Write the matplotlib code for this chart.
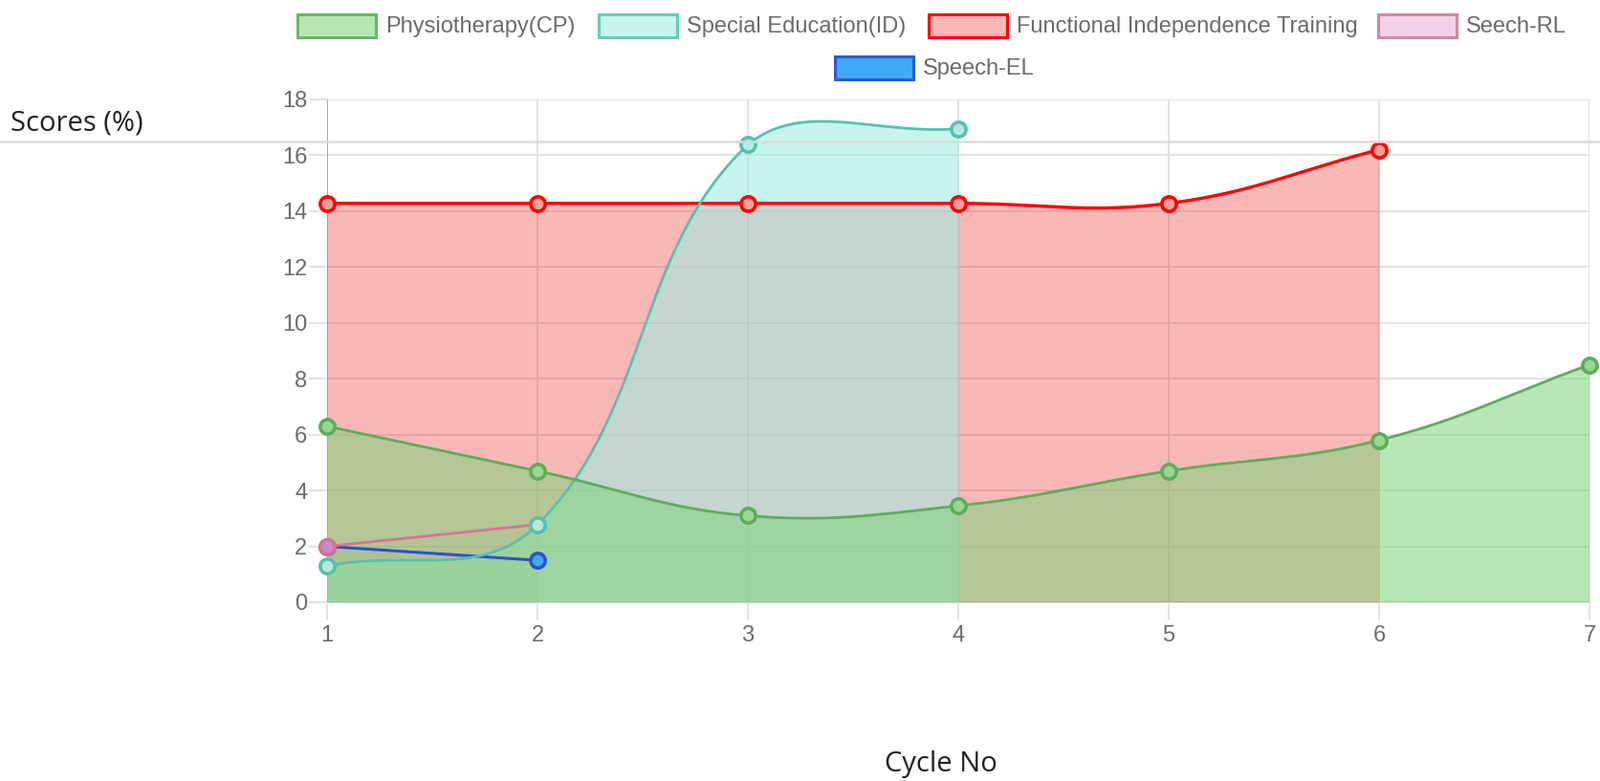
import numpy as np
import matplotlib
matplotlib.use("Agg")
import matplotlib.pyplot as plt
from matplotlib.patches import Rectangle
from matplotlib.lines import Line2D

# ---------------- data ----------------
cycles = [1, 2, 3, 4, 5, 6, 7]
physio_cp = [6.3, 4.7, 3.1, 3.45, 4.7, 5.8, 8.5]
special_ed_id = [1.3, 2.78, 16.38, 16.95]
functional_ind = [14.28, 14.28, 14.28, 14.28, 14.28, 16.2]
seech_rl = [2.0, 2.78]
speech_el = [2.0, 1.5]
y_ticks = [0, 2, 4, 6, 8, 10, 12, 14, 16, 18]
series_names = ["Physiotherapy(CP)", "Special Education(ID)", "Functional Independence Training",
                "Seech-RL", "Speech-EL"]
series_values = [physio_cp, special_ed_id, functional_ind, seech_rl, speech_el]

line_colors = [(0.36, 0.68, 0.36), (0.33, 0.76, 0.68), (1.0, 0.0, 0.0), (0.84, 0.45, 0.58), (0.17, 0.32, 0.80)]
fill_colors = [(130 / 255, 211 / 255, 123 / 255, 0.57), (158 / 255, 237 / 255, 225 / 255, 0.57),
               (0.92, 0.16, 0.16, 0.33), (0.90, 0.60, 0.82, 0.10), (0.20, 0.62, 0.95, 0.10)]
line_widths = [2.0, 2.0, 2.4, 2.0, 2.2]
legend_fill = [(0.72, 0.90, 0.70), (0.78, 0.96, 0.93), (0.97, 0.72, 0.72), (0.95, 0.82, 0.91), (0.24, 0.67, 0.96)]
legend_edge = [(0.40, 0.72, 0.40), (0.40, 0.80, 0.72), (1.0, 0.0, 0.0), (0.84, 0.52, 0.62), (0.16, 0.36, 0.82)]
marker_face = [(0.60, 0.84, 0.58), (0.70, 0.92, 0.88), (0.96, 0.62, 0.62), (0.78, 0.55, 0.80), (0.24, 0.67, 0.96)]

W, H = 1673, 817
fig = plt.figure(figsize=(W / 100, H / 100), dpi=100)
ax = fig.add_axes([342 / W, 1 - 630 / H, (1662 - 342) / W, (630 - 104) / H])
ax.set_xlim(1, 7)
ax.set_ylim(0, 18)

grid_c = (0.88, 0.88, 0.88)
for yt in y_ticks:
    ax.axhline(yt, color=grid_c, lw=1.3, zorder=0)
for xt in cycles:
    ax.axvline(xt, color=grid_c, lw=1.3, zorder=0)
ax.axhline(0, color=(0.78, 0.78, 0.78), lw=1.6, zorder=0.5)
ax.axvline(1, color=(0.66, 0.66, 0.66), lw=1.4, zorder=0.5)

for s in ax.spines.values():
    s.set_visible(False)
ax.set_yticks(y_ticks)
ax.set_xticks(cycles)
ax.tick_params(axis="both", colors=grid_c, length=14, width=1.3, labelcolor=(0.42, 0.42, 0.42),
               labelsize=17)
ax.tick_params(axis="y", pad=1)
ax.tick_params(axis="x", pad=3)
for lab in ax.get_xticklabels() + ax.get_yticklabels():
    lab.set_fontfamily("Liberation Sans")

fig.canvas.draw()
trans = ax.transData
inv = trans.inverted()
bbox = ax.bbox


def chartjs_curve(xs, ys, tension=0.4, n=60):
    pts = trans.transform(np.column_stack([xs, ys]))
    m = len(pts)
    cps = []
    for i in range(m):
        cur = pts[i]
        prev = pts[i - 1] if i > 0 else cur
        nxt = pts[i + 1] if i < m - 1 else cur
        d01 = np.hypot(*(cur - prev))
        d12 = np.hypot(*(nxt - cur))
        tot = d01 + d12
        s01 = d01 / tot if tot else 0
        s12 = d12 / tot if tot else 0
        c1 = cur - tension * s01 * (nxt - prev)
        c2 = cur + tension * s12 * (nxt - prev)
        for c in (c1, c2):
            c[0] = min(max(c[0], bbox.x0), bbox.x1)
            c[1] = min(max(c[1], bbox.y0), bbox.y1)
        cps.append((c1, c2))
    out = [pts[0]]
    t = np.linspace(0, 1, n)[1:, None]
    for i in range(m - 1):
        p0, p1, p2, p3 = pts[i], cps[i][1], cps[i + 1][0], pts[i + 1]
        seg = ((1 - t) ** 3) * p0 + 3 * ((1 - t) ** 2) * t * p1 + 3 * (1 - t) * t ** 2 * p2 + t ** 3 * p3
        out.extend(seg)
    out = inv.transform(np.array(out))
    return out[:, 0], out[:, 1]


n_series = len(series_names)
for i in range(n_series):
    vals = series_values[i]
    xs = cycles[:len(vals)]
    cx, cy = chartjs_curve(xs, vals)
    zf = 1 + (n_series - i) * 0.1          # fills: first dataset on top
    zl = 10 + (n_series - i)               # lines after all fills
    ax.fill_between(cx, 0, cy, color=fill_colors[i], lw=0, zorder=zf)
    ax.plot(cx, cy, color=line_colors[i], lw=line_widths[i], zorder=zl, solid_capstyle="round")
    ax.plot(xs, vals, "o", ms=11, mfc=marker_face[i], mec=line_colors[i], mew=2.6, zorder=zl + 0.5,
            ls="none", clip_on=False)

# figure-wide grey rule
fig.add_artist(Line2D([0, 1], [1 - 148 / H, 1 - 148 / H], transform=fig.transFigure,
                      color=(0.86, 0.86, 0.86), lw=1.8))

# axis titles
fig.text(11 / W, 1 - 129 / H, "Scores (%)", fontsize=21, family="Open Sans", color=(0.13, 0.13, 0.13),
         va="center", ha="left")
fig.text(984 / W, 1 - 799 / H, "Cycle No", fontsize=21, family="Open Sans", color=(0.13, 0.13, 0.13),
         va="center", ha="center")

# legend (manual, chart.js style)
box_x = [311, 626, 971, 1441, 873]
box_y = [27, 27, 27, 27, 71]
for i in range(n_series):
    x0 = box_x[i]
    yc = box_y[i]
    fig.add_artist(Rectangle((x0 / W, 1 - (yc + 12) / H), 82 / W, 24 / H, transform=fig.transFigure,
                             facecolor=legend_fill[i], edgecolor=legend_edge[i], lw=2.2))
    fig.text((x0 + 92) / W, 1 - (yc + 1) / H, series_names[i], fontsize=17, family="Liberation Sans",
             color=(0.42, 0.42, 0.42), va="center", ha="left")

fig.savefig("out.png", dpi=100)
